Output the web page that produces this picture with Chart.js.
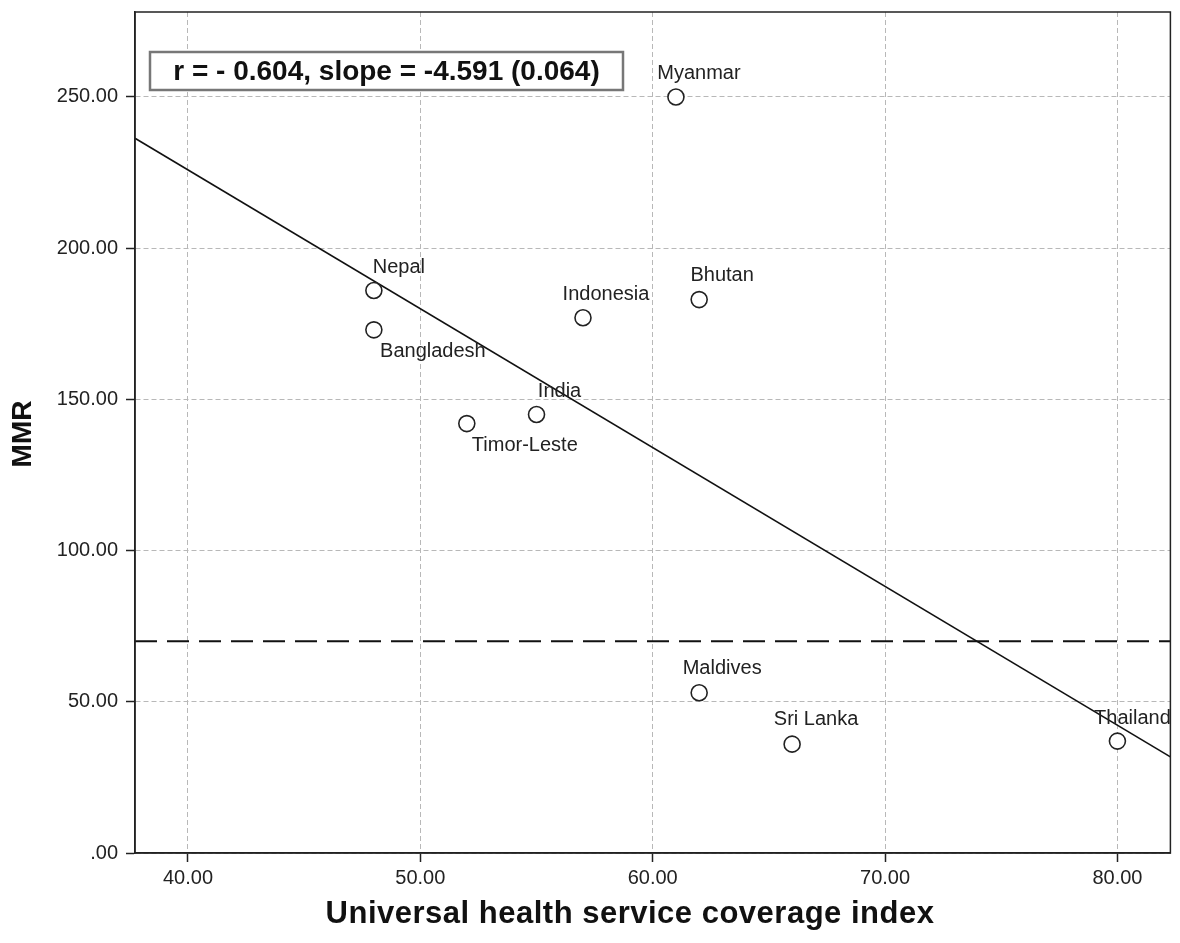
<!DOCTYPE html>
<html>
<head>
<meta charset="utf-8">
<script src="https://cdn.jsdelivr.net/npm/chart.js@4/dist/chart.umd.min.js"></script>
<style>
  html, body { margin: 0; padding: 0; background: #fff; }
  #wrap { width: 1180px; height: 943px; }
</style>
</head>
<body>
<div id="wrap"><canvas id="c" width="1180" height="943"></canvas></div>
<script>
// Countries, UHC service coverage index and maternal mortality ratio
const countries = ['Myanmar', 'Nepal', 'Bangladesh', 'Indonesia', 'Bhutan', 'India', 'Timor-Leste', 'Maldives', 'Sri Lanka', 'Thailand'];
const uhcIndex  = [61, 48, 48, 57, 62, 55, 52, 62, 66, 80];
const mmr       = [250, 186, 173, 177, 183, 145, 142, 53, 36, 37];

// Tick values on each axis
const xTickValues = [40, 50, 60, 70, 80];
const yTickValues = [0, 50, 100, 150, 200, 250];

// Reference level (dashed line)
const targetMMR = 70;

// Statistics text
const statsText = 'r = - 0.604, slope = -4.591 (0.064)';

// Label placement relative to each marker (pixels)
const labelOffsets = [[23, -23], [25, -23], [59, 22], [23, -23], [23, -24], [23, -23], [58, 22], [23, -24], [24, -25], [15, -23]];

const X_MIN = 37.72, X_MAX = 82.28, Y_MIN = 0, Y_MAX = 278.1;

// Least-squares fit of MMR on coverage index
function leastSquares(xs, ys) {
  const n = xs.length;
  const mx = xs.reduce((a, b) => a + b, 0) / n;
  const my = ys.reduce((a, b) => a + b, 0) / n;
  let sxy = 0, sxx = 0;
  for (let i = 0; i < n; i++) { sxy += (xs[i] - mx) * (ys[i] - my); sxx += (xs[i] - mx) ** 2; }
  const slope = sxy / sxx;
  return { slope, intercept: my - slope * mx };
}
const fit = leastSquares(uhcIndex, mmr);
const fitLine = [X_MIN, X_MAX].map(x => ({ x, y: fit.intercept + fit.slope * x }));

const FONT = '"Liberation Sans", Arial, sans-serif';

function fmtTick(v) {
  let s = Number(v).toFixed(2);
  if (s.startsWith('0.')) s = s.slice(1);
  return s;
}

const framePlugin = {
  id: 'frame',
  beforeDatasetsDraw(chart) {
    const { ctx, chartArea: a, scales } = chart;
    // dashed reference line
    const yT = scales.y.getPixelForValue(targetMMR);
    ctx.save();
    ctx.strokeStyle = '#111';
    ctx.lineWidth = 2;
    ctx.setLineDash([22, 10]);
    ctx.beginPath();
    ctx.moveTo(a.left, yT);
    ctx.lineTo(a.right, yT);
    ctx.stroke();
    ctx.restore();
  },
  afterDatasetsDraw(chart) {
    const { ctx, chartArea: a, scales } = chart;
    ctx.save();
    // point labels
    ctx.font = '20px ' + FONT;
    ctx.fillStyle = '#222';
    ctx.textAlign = 'center';
    ctx.textBaseline = 'middle';
    countries.forEach((name, i) => {
      const px = scales.x.getPixelForValue(uhcIndex[i]);
      const py = scales.y.getPixelForValue(mmr[i]);
      ctx.fillText(name, px + labelOffsets[i][0], py + labelOffsets[i][1]);
    });
    // frame around plot area
    ctx.strokeStyle = '#222';
    ctx.lineWidth = 1.5;
    ctx.strokeRect(a.left, a.top, a.right - a.left, a.bottom - a.top);
    // statistics box
    const bx = 150, by = 52, bw = 473, bh = 38;
    ctx.fillStyle = '#fff';
    ctx.fillRect(bx, by, bw, bh);
    ctx.strokeStyle = '#777';
    ctx.lineWidth = 2.5;
    ctx.strokeRect(bx, by, bw, bh);
    ctx.fillStyle = '#111';
    ctx.font = 'bold 28px ' + FONT;
    ctx.textAlign = 'center';
    ctx.textBaseline = 'middle';
    ctx.fillText(statsText, bx + bw / 2, by + bh / 2 + 1);
    // axis titles
    ctx.font = 'bold 31px ' + FONT;
    ctx.letterSpacing = '0.5px';
    ctx.fillText('Universal health service coverage index', 630, 914);
    ctx.font = 'bold 28px ' + FONT;
    ctx.letterSpacing = '0px';
    ctx.save();
    ctx.translate(23, 434);
    ctx.rotate(-Math.PI / 2);
    ctx.fillText('MMR', 0, 0);
    ctx.restore();
    ctx.restore();
  }
};

const gridCommon = {
  color: '#b8b8b8',
  lineWidth: 1,
  drawTicks: true,
  tickLength: 9,
  tickColor: '#222',
  tickWidth: 1.5,
  tickBorderDash: []
};

new Chart(document.getElementById('c'), {
  type: 'scatter',
  data: {
    datasets: [
      {
        label: 'Countries',
        data: uhcIndex.map((x, i) => ({ x, y: mmr[i] })),
        pointRadius: 8,
        pointHoverRadius: 8,
        pointBorderWidth: 1.6,
        borderColor: '#222',
        backgroundColor: '#fff',
        order: 1
      },
      {
        type: 'line',
        label: 'Fit',
        data: fitLine,
        borderColor: '#111',
        borderWidth: 1.6,
        pointRadius: 0,
        fill: false,
        order: 2
      }
    ]
  },
  options: {
    responsive: false,
    animation: false,
    devicePixelRatio: 1,
    layout: { padding: { left: 0, right: 6, top: 12, bottom: 0 } },
    plugins: { legend: { display: false }, tooltip: { enabled: false } },
    scales: {
      x: {
        type: 'linear',
        min: X_MIN, max: X_MAX,
        afterBuildTicks: s => { s.ticks = xTickValues.map(v => ({ value: v })); },
        afterFit: s => { s.height = 90; s.paddingLeft = 0; s.paddingRight = 0; },
        grid: gridCommon,
        border: { display: true, color: '#222', width: 1.5, dash: [5, 3] },
        ticks: {
          color: '#222',
          font: { family: FONT, size: 20 },
          padding: 4,
          maxRotation: 0,
          callback: v => fmtTick(v)
        }
      },
      y: {
        type: 'linear',
        min: Y_MIN, max: Y_MAX,
        afterBuildTicks: s => { s.ticks = yTickValues.map(v => ({ value: v })); },
        afterFit: s => { s.width = 135; s.paddingTop = 0; s.paddingBottom = 0; },
        grid: gridCommon,
        border: { display: true, color: '#222', width: 1.5, dash: [5, 3] },
        ticks: {
          color: '#222',
          font: { family: FONT, size: 20 },
          padding: 8,
          callback: v => fmtTick(v)
        }
      }
    }
  },
  plugins: [framePlugin]
});
</script>
</body>
</html>
